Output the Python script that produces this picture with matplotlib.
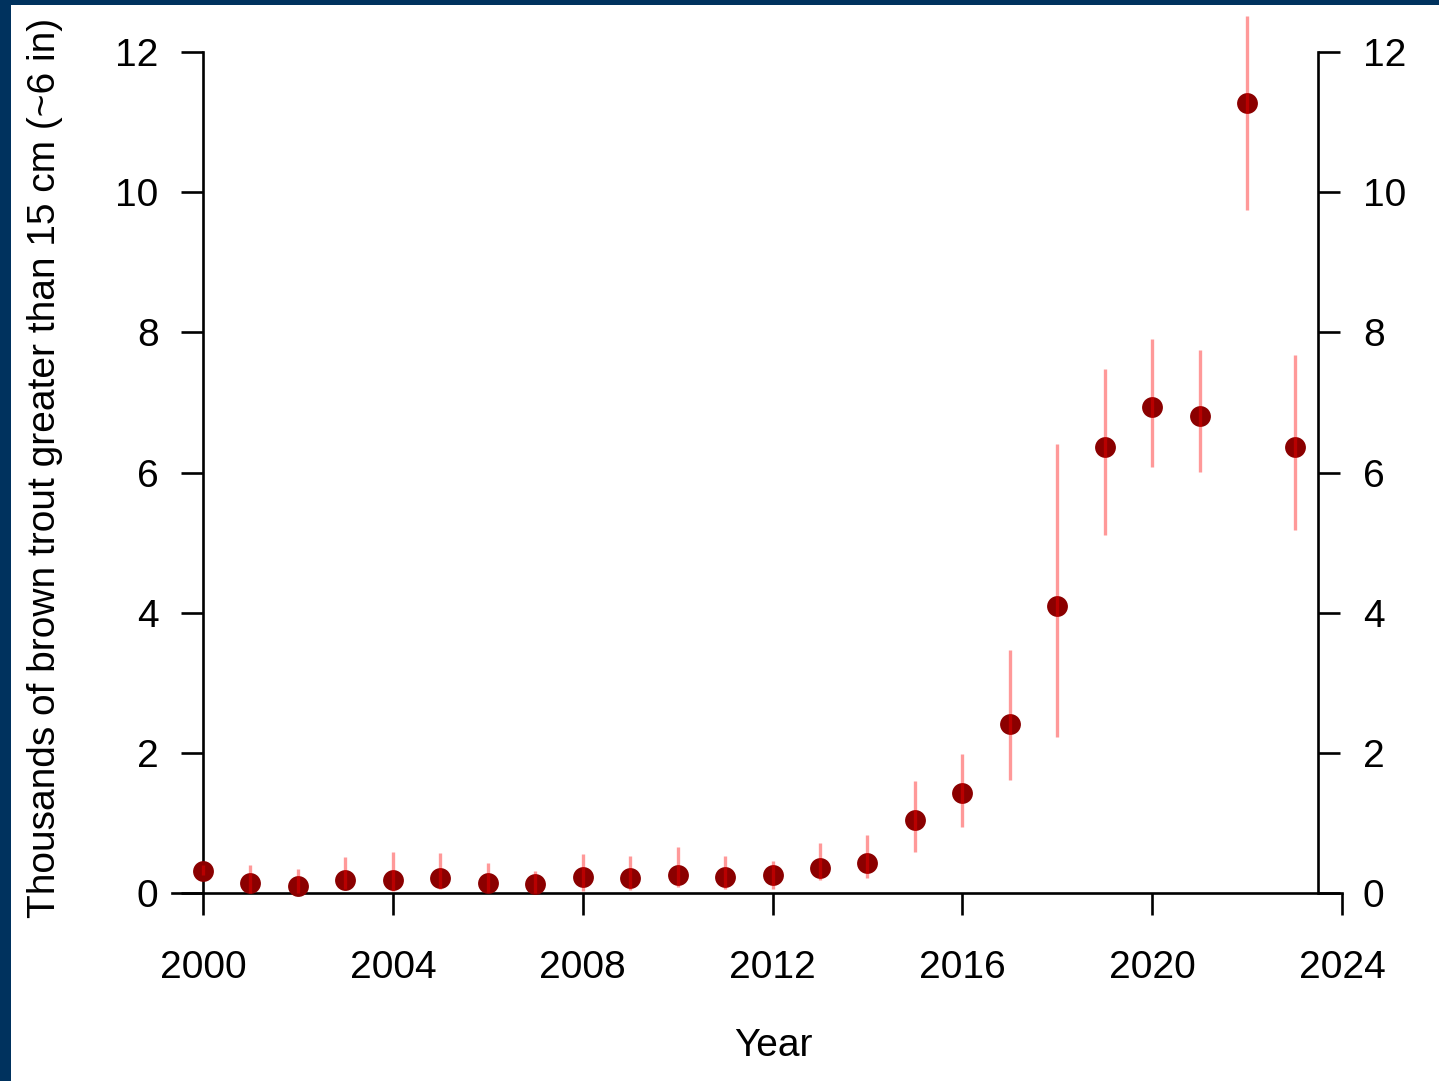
import matplotlib.pyplot as plt
from matplotlib.patches import Rectangle

plt.rcParams['font.family'] = ['Liberation Sans', 'DejaVu Sans']

# brown trout > 15 cm, thousands, with interval bounds
years = list(range(2000, 2024))
estimate = [0.32, 0.14, 0.10, 0.19, 0.19, 0.21, 0.14, 0.13, 0.23, 0.21, 0.26, 0.23,
            0.26, 0.36, 0.43, 1.04, 1.43, 2.41, 4.10, 6.36, 6.93, 6.81, 11.27, 6.36]
lower = [0.26, 0.00, 0.00, 0.05, 0.03, 0.05, 0.02, 0.00, 0.03, 0.04, 0.08, 0.05,
         0.06, 0.19, 0.21, 0.59, 0.94, 1.61, 2.23, 5.11, 6.08, 6.01, 9.75, 5.18]
upper = [0.40, 0.40, 0.34, 0.51, 0.58, 0.57, 0.43, 0.32, 0.56, 0.53, 0.66, 0.53,
         0.46, 0.71, 0.83, 1.60, 1.98, 3.47, 6.41, 7.48, 7.91, 7.75, 12.51, 7.68]
yticks = [0, 2, 4, 6, 8, 10, 12]
xticks = [2000, 2004, 2008, 2012, 2016, 2020, 2024]

W, H = 1439, 1081
fig = plt.figure(figsize=(W / 100, H / 100), dpi=100, facecolor='white')
# navy slide frame along the top and left edges
navy = '#00325e'
fig.patches.append(Rectangle((0, 0), 11 / W, 1, transform=fig.transFigure,
                             facecolor=navy, edgecolor='none', zorder=-10))
fig.patches.append(Rectangle((0, 1 - 5 / H), 1, 5 / H, transform=fig.transFigure,
                             facecolor=navy, edgecolor='none', zorder=-10))

# axes placed so 2000..2024 spans px 203..1342 and 0..12 spans px 893..52
xl, xr = 1998.9, 2025.0
yb, yt = -0.6, 12.6
px_x = lambda v: 203 + (v - 2000) * 47.46
px_y = lambda v: 893 - v * 70.08
left = px_x(xl) / W
right = px_x(xr) / W
bottom = (H - px_y(yb)) / H
top = (H - px_y(yt)) / H
ax = fig.add_axes([left, bottom, right - left, top - bottom])
ax.set_facecolor('none')
ax.set_xlim(xl, xr)
ax.set_ylim(yb, yt)

# intervals over the dots, semi-transparent red
ax.vlines(years, lower, upper, color=(1, 0, 0, 0.4), lw=2.4, zorder=4)
ax.plot(years, estimate, 'o', color='#8b0000', ms=15, mec='none', zorder=3)

ax.spines['top'].set_visible(False)
ax.spines['left'].set_position(('data', 2000))
ax.spines['left'].set_bounds(0, 12)
ax.spines['right'].set_position(('data', 2023.5))
ax.spines['right'].set_bounds(0, 12)
ax.spines['bottom'].set_position(('data', 0))
ax.spines['bottom'].set_bounds(1999.35, 2024)
for s in ['left', 'right', 'bottom']:
    ax.spines[s].set_linewidth(1.9)

ax.set_xticks(xticks)
ax.set_yticks(yticks)
ax.yaxis.set_ticks_position('both')
ax.tick_params(axis='y', direction='out', length=16, width=1.9, labelsize=28,
               pad=16, labelright=True, labelleft=True)
ax.tick_params(axis='x', direction='out', length=16, width=1.9, labelsize=28, pad=25)

ax.set_ylabel('Thousands of brown trout greater than 15 cm (~6 in)', fontsize=28)
ax.yaxis.set_label_coords((45 - px_x(xl)) / (px_x(xr) - px_x(xl)), (px_y(yb) - 468) / (px_y(yb) - px_y(yt)))
ax.set_xlabel('Year', fontsize=28)
ax.xaxis.set_label_coords((773 - px_x(xl)) / (px_x(xr) - px_x(xl)), (px_y(yb) - 1046) / (px_y(yb) - px_y(yt)))
ax.xaxis.label.set_va('center')
ax.yaxis.label.set_va('center')

fig.savefig('out.png', dpi=100)
